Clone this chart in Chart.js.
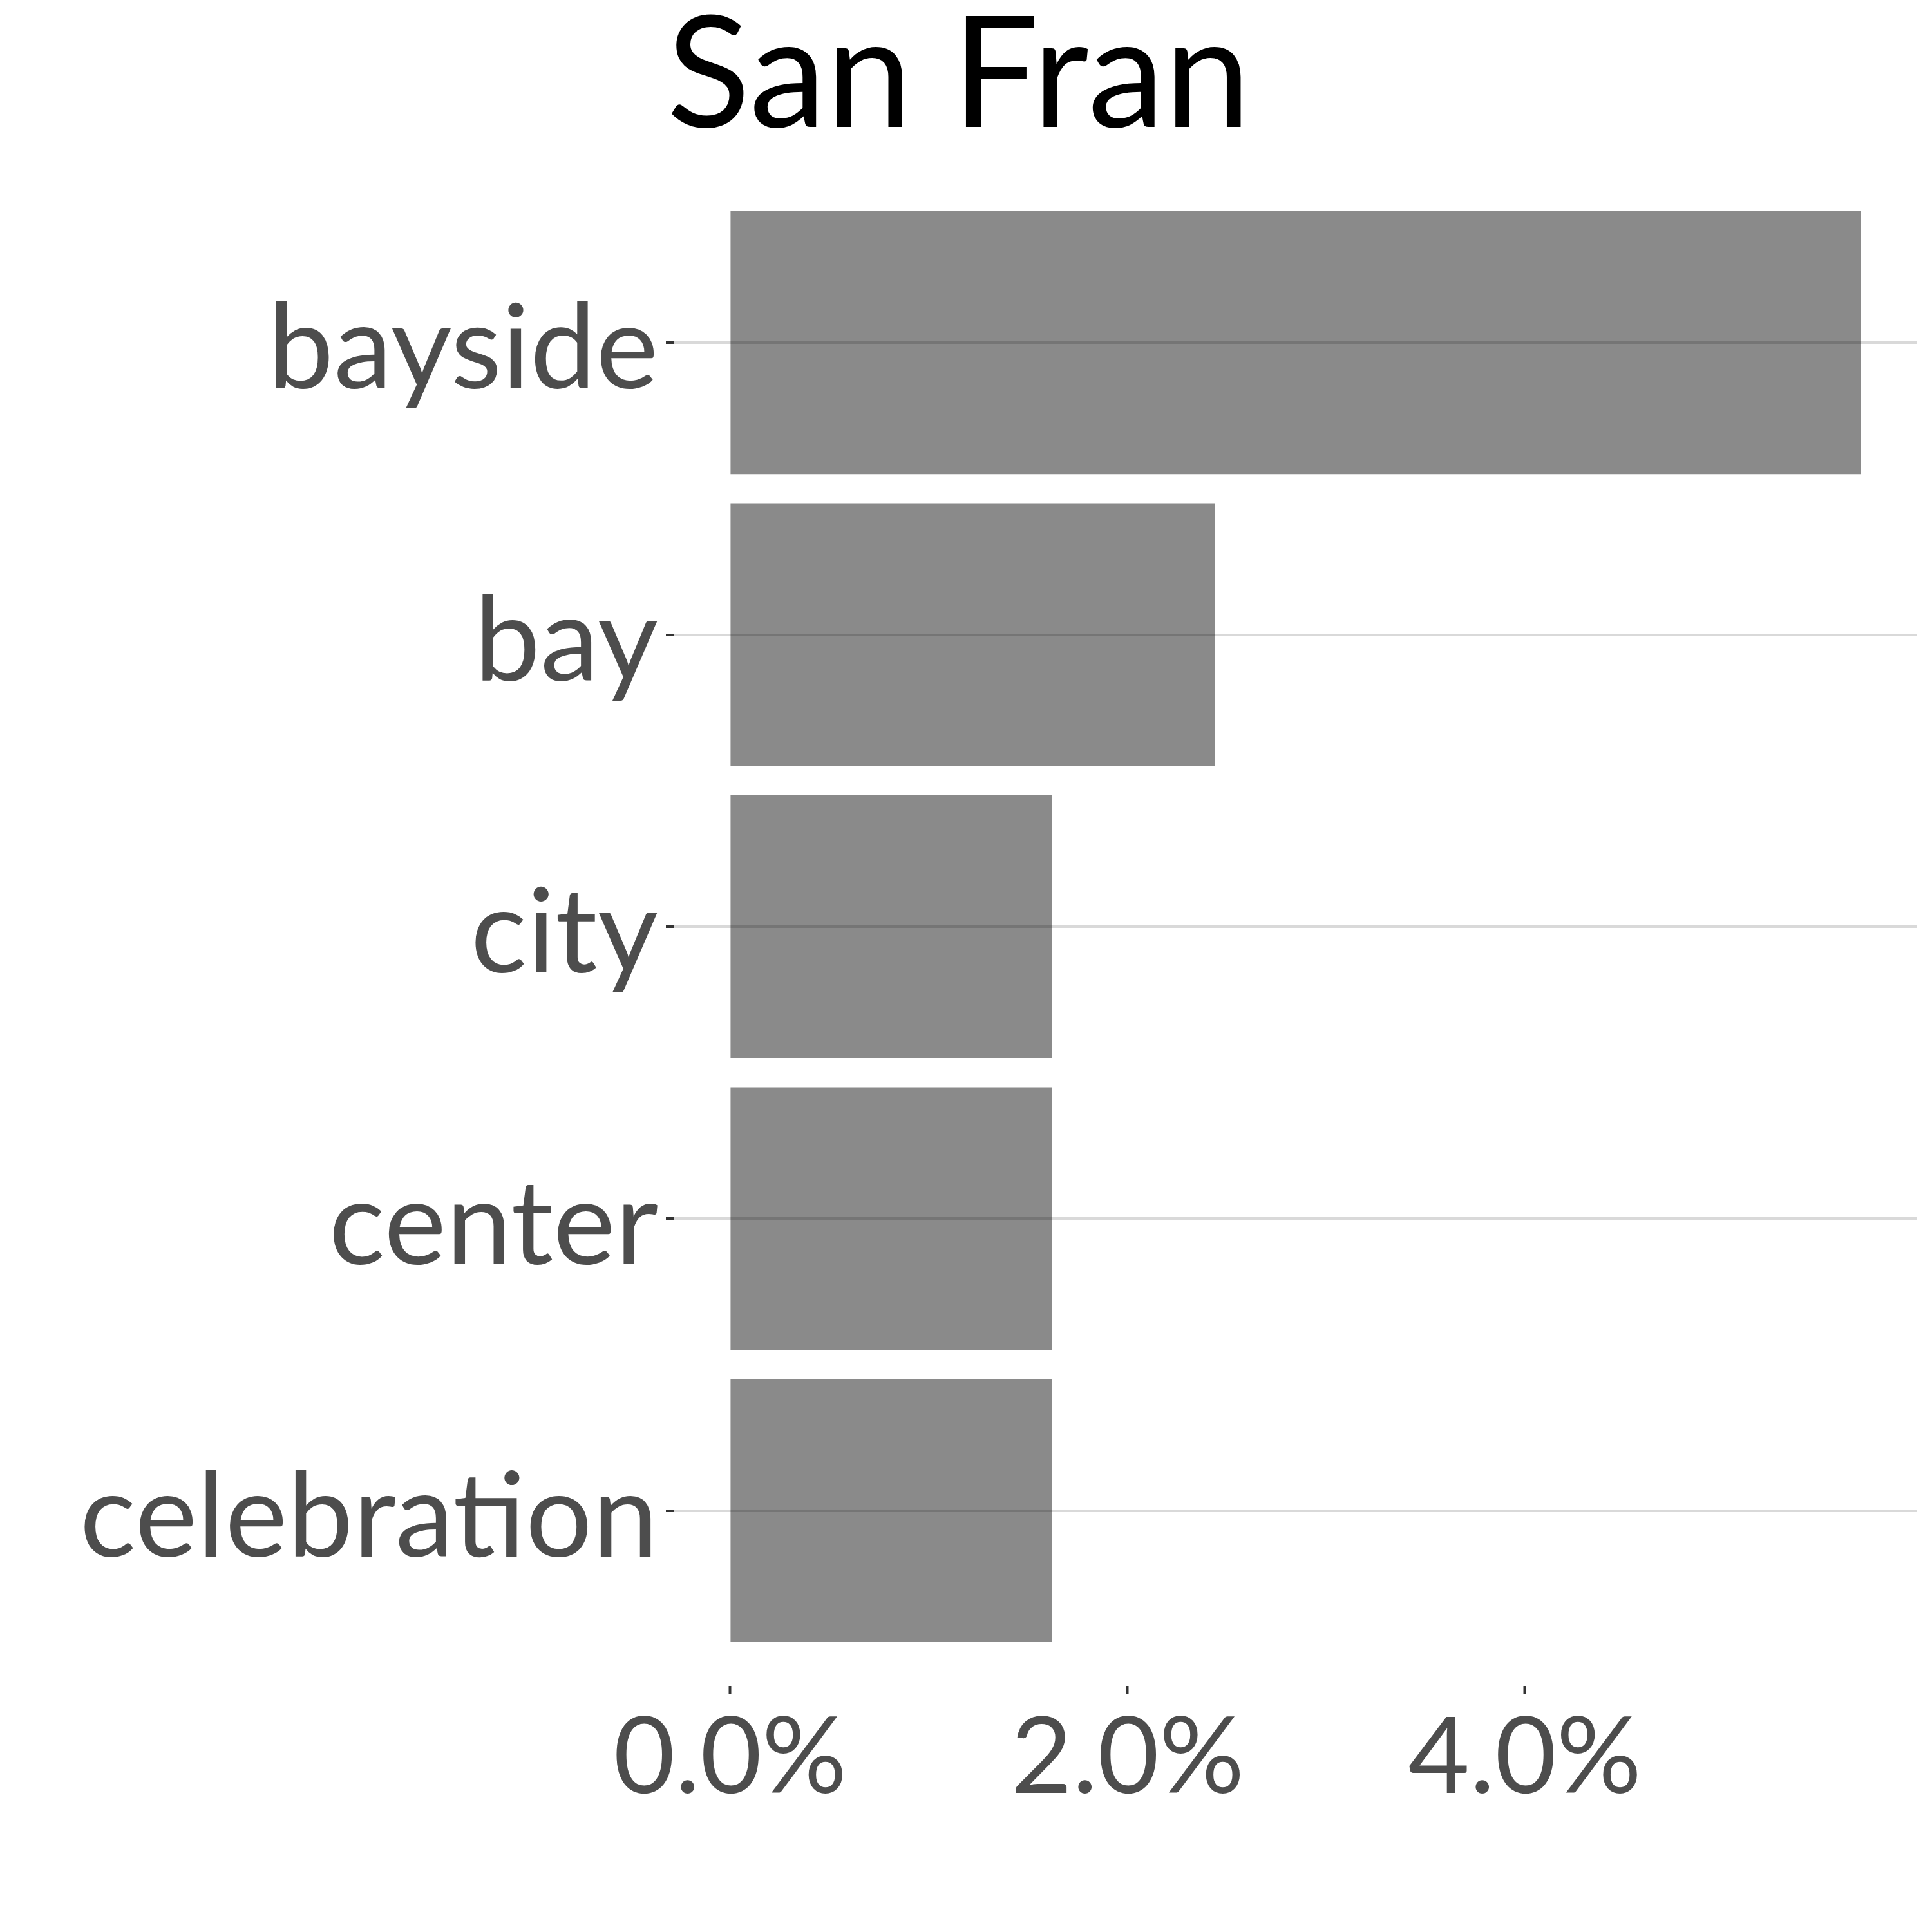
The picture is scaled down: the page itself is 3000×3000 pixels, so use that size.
<!DOCTYPE html>
<html>
<head>
<meta charset="utf-8">
<script src="https://cdn.jsdelivr.net/npm/chart.js@4"></script>
<style>
  html, body { margin: 0; padding: 0; background: #ffffff; }
  #wrap { width: 3000px; height: 3000px; }
</style>
</head>
<body>
<div id="wrap"><canvas id="c" width="3000" height="3000"></canvas></div>
<script>
const chartTitle = "San Fran";
const categories = ["bayside", "bay", "city", "center", "celebration"];
const shares = [5.69, 2.44, 1.62, 1.62, 1.62];
const xTickValues = [0, 2, 4];
const xMin = -0.285;
const xMax = 5.975;

const points = categories.map((c, i) => ({ x: shares[i], y: i }));

new Chart(document.getElementById('c'), {
  type: 'bar',
  data: {
    datasets: [{
      data: points,
      backgroundColor: 'rgba(0,0,0,0.46)',
      borderWidth: 0,
      barPercentage: 0.9,
      categoryPercentage: 1.0
    }]
  },
  options: {
    indexAxis: 'y',
    responsive: false,
    animation: false,
    devicePixelRatio: 1,
    layout: { padding: { left: 0, right: 23, top: 0, bottom: 0 } },
    plugins: {
      legend: { display: false },
      tooltip: { enabled: false },
      title: {
        display: true,
        text: chartTitle,
        color: '#000000',
        font: { family: 'Lato', size: 240, weight: 'normal', lineHeight: 1 },
        padding: { top: 0, bottom: 20 }
      }
    },
    scales: {
      x: {
        type: 'linear',
        position: 'bottom',
        min: xMin,
        max: xMax,
        afterBuildTicks: (s) => { s.ticks = xTickValues.map(v => ({ value: v })); },
        afterFit: (s) => { s.height = 3000 - 2618; },
        border: { display: false },
        grid: {
          display: true,
          drawOnChartArea: false,
          drawTicks: true,
          tickLength: 12,
          tickWidth: 4,
          tickColor: '#333333'
        },
        ticks: {
          color: '#4d4d4d',
          padding: 2,
          maxRotation: 0,
          font: { family: 'Lato', size: 165 },
          callback: (v) => Number(v).toFixed(1) + '%'
        }
      },
      y: {
        type: 'linear',
        reverse: true,
        offset: false,
        min: -0.6,
        max: categories.length - 1 + 0.6,
        afterBuildTicks: (s) => { s.ticks = categories.map((c, i) => ({ value: i })); },
        afterFit: (s) => { s.width = 1046; },
        border: { display: false },
        grid: {
          display: true,
          offset: false,
          drawOnChartArea: true,
          drawTicks: true,
          color: '#d9d9d9',
          lineWidth: 4,
          tickLength: 12,
          tickWidth: 4,
          tickColor: '#333333'
        },
        ticks: {
          color: '#4d4d4d',
          padding: 12,
          labelOffset: 12,
          font: { family: 'Lato', size: 183 },
          callback: (v) => categories[v] !== undefined ? categories[v] : ''
        }
      }
    }
  }
});
</script>
</body>
</html>
